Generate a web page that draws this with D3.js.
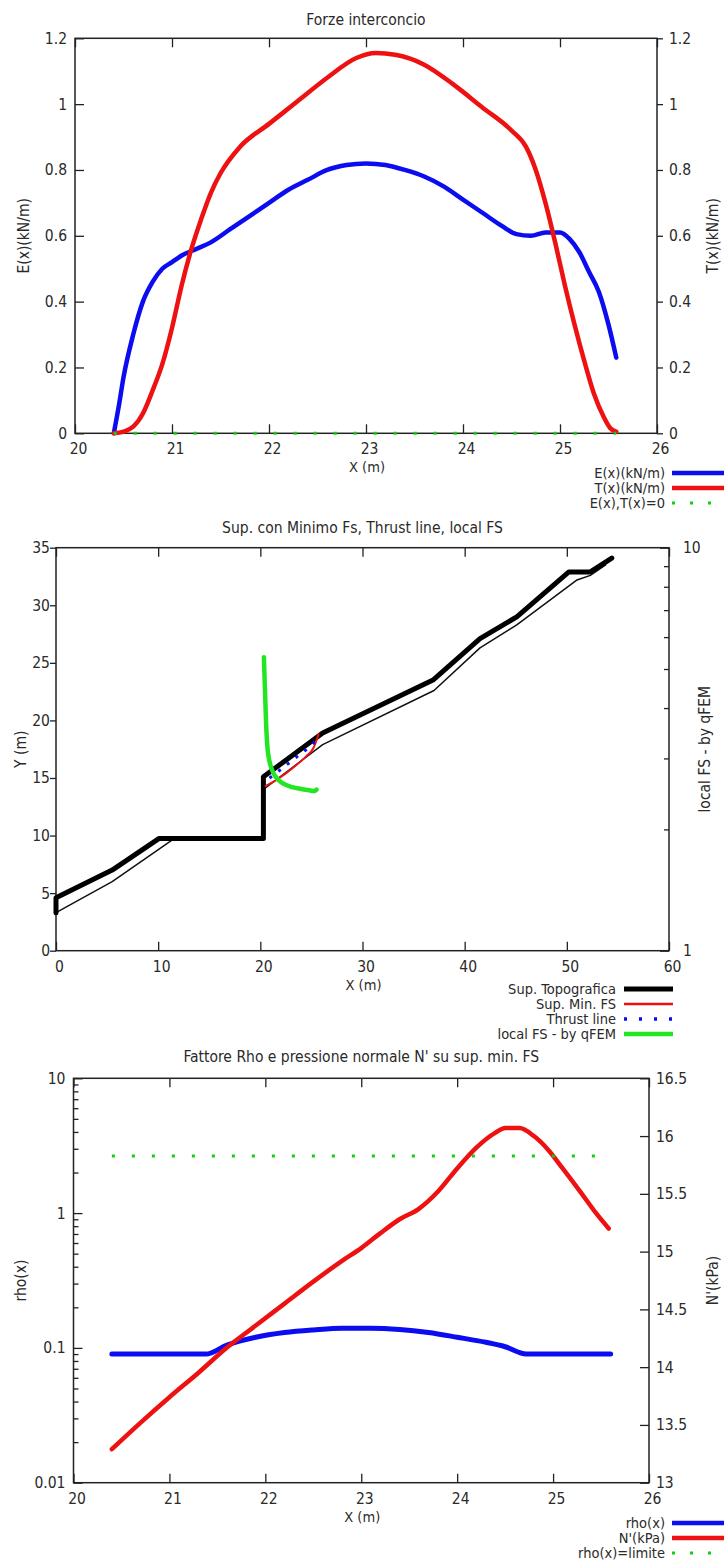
<!DOCTYPE html>
<html>
<head>
<meta charset="utf-8">
<script src="https://cdn.jsdelivr.net/npm/d3@7"></script>
<style>
  body { margin: 0; background: #fff; }
  svg { display: block; background: #fff; }
  text { font-family: "DejaVu Sans Condensed", "DejaVu Sans", sans-serif; font-stretch: condensed; fill: #2a2a2a; }
</style>
</head>
<body>
<svg id="chart" width="724" height="1566"></svg>
<script>
// [A] Dati -------------------------------------------------------------------
// Pannello 1: forze interconcio
const forzeX = [20.40, 20.45, 20.50, 20.60, 20.70, 20.80, 20.90, 21.00, 21.10, 21.25, 21.40, 21.60, 21.80, 22.00,
  22.20, 22.40, 22.60, 22.80, 23.00, 23.20, 23.40, 23.60, 23.80, 24.00, 24.20, 24.40, 24.55, 24.70, 24.85,
  25.00, 25.10, 25.20, 25.30, 25.40, 25.50, 25.58];
const forzeE = [0.00, 0.08, 0.17, 0.30, 0.40, 0.46, 0.50, 0.52, 0.54, 0.56, 0.58, 0.62, 0.66, 0.70,
  0.74, 0.77, 0.80, 0.815, 0.82, 0.815, 0.80, 0.78, 0.75, 0.71, 0.67, 0.63, 0.605, 0.60, 0.61,
  0.61, 0.59, 0.55, 0.49, 0.43, 0.33, 0.23];
const forzeTX = [20.40, 20.50, 20.60, 20.70, 20.80, 20.90, 21.00, 21.10, 21.20, 21.30, 21.40, 21.50, 21.70,
  22.00, 22.30, 22.60, 22.90, 23.10, 23.30, 23.60, 23.90, 24.20, 24.50, 24.65, 24.75, 24.85, 24.95,
  25.05, 25.15, 25.25, 25.35, 25.45, 25.52, 25.58];
const forzeT = [0.00, 0.005, 0.02, 0.06, 0.13, 0.21, 0.32, 0.45, 0.56, 0.65, 0.73, 0.79, 0.87,
  0.94, 1.01, 1.08, 1.14, 1.155, 1.15, 1.12, 1.06, 0.99, 0.92, 0.87, 0.80, 0.70, 0.58,
  0.45, 0.33, 0.22, 0.12, 0.05, 0.015, 0.005];
const zeroX = [20.40, 25.58];
const zeroY = [0, 0];

// Pannello 2: superficie topografica, sup. min FS, thrust line, FS locale
const topoX = [0, 0, 5.5, 10.1, 20.3, 20.3, 26.1, 36.9, 41.5, 45.1, 50.2, 52.3, 54.4];
const topoY = [3.3, 4.6, 7.0, 9.75, 9.75, 15.1, 18.9, 23.5, 27.1, 29.0, 32.9, 32.9, 34.1];
const stratoX = [0, 5.5, 11.6, 20.3, 20.3, 26.1, 37.0, 41.5, 45.1, 51.0, 52.3, 53.8];
const stratoY = [3.3, 6.0, 9.75, 9.75, 14.0, 17.9, 22.6, 26.3, 28.3, 32.2, 32.6, 33.5];
const minFsX = [20.5, 21.5, 22.5, 23.5, 24.5, 25.2, 25.7];
const minFsY = [14.3, 14.8, 15.4, 16.1, 16.9, 17.6, 18.8];
const thrustX = [20.9, 21.8, 22.8, 23.8, 24.8, 25.5];
const thrustY = [15.0, 15.6, 16.3, 17.0, 17.7, 18.3];
const localFsX = [20.35, 20.42, 20.5, 20.6, 20.75, 21.0, 21.5, 22.2, 23.0, 24.0, 24.8, 25.3, 25.5];
const localFs = [5.35, 4.7, 4.1, 3.5, 3.1, 2.88, 2.7, 2.6, 2.55, 2.52, 2.5, 2.49, 2.51];

// Pannello 3: fattore rho e pressione normale N'
const rhoX = [20.4, 21.38, 21.6, 21.9, 22.2, 22.5, 22.8, 23.1, 23.4, 23.7, 24.0, 24.3, 24.5, 24.72, 25.6];
const rho = [0.09, 0.09, 0.105, 0.12, 0.13, 0.136, 0.14, 0.14, 0.137, 0.13, 0.12, 0.11, 0.102, 0.09, 0.09];
const nX = [20.4, 20.7, 21.0, 21.3, 21.6, 21.9, 22.2, 22.5, 22.8, 23.0, 23.2, 23.4, 23.6, 23.8, 24.0,
  24.2, 24.4, 24.5, 24.65, 24.8, 24.95, 25.1, 25.3, 25.45, 25.58];
const nPress = [13.29, 13.52, 13.74, 13.95, 14.17, 14.36, 14.55, 14.74, 14.92, 15.03, 15.16, 15.28, 15.37,
  15.52, 15.72, 15.9, 16.03, 16.07, 16.07, 16.0, 15.88, 15.72, 15.5, 15.33, 15.2];
const limiteX = [20.4, 25.58];
const limiteRho = [2.65, 2.65];

// Tick
const ticksX1 = [20, 21, 22, 23, 24, 25, 26];
const ticksY1 = [0, 0.2, 0.4, 0.6, 0.8, 1, 1.2];
const ticksX2 = [0, 10, 20, 30, 40, 50, 60];
const ticksY2 = [0, 5, 10, 15, 20, 25, 30, 35];
const ticksFs = [1, 2, 3, 4, 5, 6, 7, 8, 9, 10];
const ticksRho = [0.01, 0.02, 0.03, 0.04, 0.05, 0.06, 0.07, 0.08, 0.09, 0.1, 0.2, 0.3, 0.4, 0.5, 0.6, 0.7,
  0.8, 0.9, 1, 2, 3, 4, 5, 6, 7, 8, 9, 10];
const ticksN = [13, 13.5, 14, 14.5, 15, 15.5, 16, 16.5];

// [B] Stili ------------------------------------------------------------------
const BLUE = "#0c0cf0";
const RED = "#ee1111";
const GREEN = "#22e622";
const DOTGREEN = "#10d010";
const INK = "#222";
const FS = 15.5;

const svg = d3.select("#chart");
const isDecade = d => Math.abs(Math.log10(d) - Math.round(Math.log10(d))) < 1e-9;

// [C] Funzioni di supporto ------------------------------------------------------
function styleAxis(g) {
  g.select(".domain").remove();
  g.selectAll(".tick line").attr("stroke", INK).attr("stroke-width", 1.3);
  g.selectAll(".tick text").attr("font-size", FS).attr("fill", "#2a2a2a");
  g.attr("font-family", null).attr("font-size", null);
}

function drawFrame(p) {
  const [x0, x1] = p.x.range();
  const [yb, yt] = p.yl.range();

  // asse x in basso e in alto (tick interni)
  svg.append("g").attr("transform", `translate(0,${yb})`)
    .call(d3.axisBottom(p.x).tickValues(p.xTicks).tickSize(-9).tickPadding(10).tickFormat(d => String(d)))
    .call(styleAxis)
    .call(g => g.selectAll(".tick text").attr("x", 3));
  svg.append("g").attr("transform", `translate(0,${yt})`)
    .call(d3.axisTop(p.x).tickValues(p.xTicks).tickSize(-9).tickFormat(""))
    .call(styleAxis);

  // asse y sinistro
  const left = svg.append("g").attr("transform", `translate(${x0},0)`)
    .call(d3.axisLeft(p.yl).tickValues(p.ylTicks).tickSize(p.leftOut ? 6 : -9)
      .tickPadding(p.leftOut ? 0 : 8)
      .tickFormat(d => (p.ylLog && !isDecade(d)) ? "" : String(d)))
    .call(styleAxis);
  if (p.ylLog) left.selectAll(".tick line").attr("x2", d => isDecade(d) ? 9 : 5);

  // asse y destro
  const right = svg.append("g").attr("transform", `translate(${x1},0)`)
    .call(d3.axisRight(p.yr).tickValues(p.yrTicks).tickSize(p.rightOut ? 6 : -9)
      .tickPadding(p.rightPad)
      .tickFormat(d => (p.yrLog && !isDecade(d)) ? "" : String(d)))
    .call(styleAxis);
  if (p.yrLog) right.selectAll(".tick line").attr("x2", d => isDecade(d) ? -9 : -5);

  // cornice
  svg.append("rect")
    .attr("x", x0).attr("y", yt)
    .attr("width", x1 - x0).attr("height", yb - yt)
    .attr("fill", "none").attr("stroke", INK).attr("stroke-width", 1.5);

  // titolo ed etichette
  const cx = (x0 + x1) / 2, cy = (yb + yt) / 2;
  svg.append("text").attr("x", cx).attr("y", p.titleY).attr("text-anchor", "middle")
    .attr("dominant-baseline", "central").attr("font-size", FS).text(p.title);
  svg.append("text").attr("x", cx + 1).attr("y", yb + 34).attr("text-anchor", "middle")
    .attr("dominant-baseline", "central").attr("font-size", FS - 1).text("X (m)");
  svg.append("text").attr("transform", `translate(${p.ylLabelX},${cy}) rotate(-90)`)
    .attr("text-anchor", "middle").attr("dominant-baseline", "central")
    .attr("font-size", FS).text(p.ylLabel);
  svg.append("text").attr("transform", `translate(${p.yrLabelX},${cy}) rotate(-90)`)
    .attr("text-anchor", "middle").attr("dominant-baseline", "central")
    .attr("font-size", FS).text(p.yrLabel);
}

function drawSeries(xs, ys, sx, sy, style, curve) {
  const line = d3.line()
    .x(d => sx(d[0]))
    .y(d => sy(d[1]))
    .curve(curve || d3.curveLinear);
  svg.append("path")
    .datum(d3.zip(xs, ys))
    .attr("d", line)
    .attr("fill", "none")
    .attr("stroke", style.color)
    .attr("stroke-width", style.width)
    .attr("stroke-dasharray", style.dash || null)
    .attr("stroke-linejoin", "round")
    .attr("stroke-linecap", style.dash ? "butt" : "round");
}

function drawLegend(items, textX, lx1, lx2, y0) {
  items.forEach((it, i) => {
    const y = y0 + i * 15;
    svg.append("text").attr("x", textX).attr("y", y).attr("text-anchor", "end")
      .attr("dominant-baseline", "central").attr("font-size", 14.5).text(it.label);
    svg.append("line").attr("x1", lx1).attr("x2", lx2).attr("y1", y).attr("y2", y)
      .attr("stroke", it.color).attr("stroke-width", it.width)
      .attr("stroke-dasharray", it.dash || null);
  });
}

// [D] Pannello 1 - Forze interconcio ---------------------------------------------
const x1s = d3.scaleLinear().domain([20, 26]).range([75, 657]);
const y1s = d3.scaleLinear().domain([0, 1.2]).range([433.3, 38.3]);
const y1r = d3.scaleLinear().domain([0, 1.2]).range([433.3, 38.3]);

drawFrame({
  x: x1s, yl: y1s, yr: y1r, xTicks: ticksX1, ylTicks: ticksY1, yrTicks: ticksY1,
  rightOut: true, rightPad: 6,
  title: "Forze interconcio", titleY: 20,
  ylLabel: "E(x)(kN/m)", ylLabelX: 24, yrLabel: "T(x)(kN/m)", yrLabelX: 713
});
drawSeries(forzeX, forzeE, x1s, y1s, { color: BLUE, width: 4.5 }, d3.curveMonotoneX);
drawSeries(forzeTX, forzeT, x1s, y1r, { color: RED, width: 4.5 }, d3.curveMonotoneX);
drawSeries(zeroX, zeroY, x1s, y1s, { color: DOTGREEN, width: 3, dash: "3 17" });
drawLegend([
  { label: "E(x)(kN/m)", color: BLUE, width: 4.5 },
  { label: "T(x)(kN/m)", color: RED, width: 4.5 },
  { label: "E(x),T(x)=0", color: DOTGREEN, width: 3, dash: "3 15" }
], 665, 672, 724, 473);

// [E] Pannello 2 - Superficie con minimo FS -------------------------------------
const x2s = d3.scaleLinear().domain([0, 60]).range([56, 669]);
const y2s = d3.scaleLinear().domain([0, 35]).range([950.7, 547.7]);
const y2r = d3.scaleLog().domain([1, 10]).range([950.7, 547.7]);

drawFrame({
  x: x2s, yl: y2s, yr: y2r, xTicks: ticksX2, ylTicks: ticksY2, yrTicks: ticksFs,
  leftOut: true, yrLog: true, rightPad: 14,
  title: "Sup. con Minimo Fs, Thrust line, local FS", titleY: 528,
  ylLabel: "Y (m)", ylLabelX: 21, yrLabel: "local FS - by qFEM", yrLabelX: 705
});
drawSeries(stratoX, stratoY, x2s, y2s, { color: "#111", width: 1.5 });
drawSeries(topoX, topoY, x2s, y2s, { color: "#000", width: 5 });
drawSeries(minFsX, minFsY, x2s, y2s, { color: RED, width: 2 }, d3.curveMonotoneX);
drawSeries(thrustX, thrustY, x2s, y2s, { color: BLUE, width: 3, dash: "3 8" }, d3.curveMonotoneX);
drawSeries(localFsX, localFs, x2s, y2r, { color: GREEN, width: 4.5 }, d3.curveCatmullRom.alpha(0.5));
drawLegend([
  { label: "Sup. Topografica", color: "#000", width: 5 },
  { label: "Sup. Min. FS", color: RED, width: 2.5 },
  { label: "Thrust line", color: BLUE, width: 3.5, dash: "3 12" },
  { label: "local FS - by qFEM", color: GREEN, width: 4.5 }
], 616, 624, 673, 989);

// [F] Pannello 3 - Fattore Rho e pressione normale -------------------------------
const x3s = d3.scaleLinear().domain([20, 26]).range([73.5, 649]);
const y3s = d3.scaleLog().domain([0.01, 10]).range([1482.7, 1078.3]);
const y3r = d3.scaleLinear().domain([13, 16.5]).range([1482.7, 1078.3]);

drawFrame({
  x: x3s, yl: y3s, yr: y3r, xTicks: ticksX1, ylTicks: ticksRho, yrTicks: ticksN,
  ylLog: true, rightPad: 7,
  title: "Fattore Rho e pressione normale N' su sup. min. FS", titleY: 1057,
  ylLabel: "rho(x)", ylLabelX: 21, yrLabel: "N'(kPa)", yrLabelX: 713
});
drawSeries(rhoX, rho, x3s, y3s, { color: BLUE, width: 5 }, d3.curveMonotoneX);
drawSeries(nX, nPress, x3s, y3r, { color: RED, width: 4.5 }, d3.curveMonotoneX);
drawSeries(limiteX, limiteRho, x3s, y3s, { color: DOTGREEN, width: 3, dash: "3 17" });
drawLegend([
  { label: "rho(x)", color: BLUE, width: 4.5 },
  { label: "N'(kPa)", color: RED, width: 4.5 },
  { label: "rho(x)=limite", color: DOTGREEN, width: 3, dash: "3 15" }
], 665, 672, 724, 1523);
</script>
</body>
</html>
